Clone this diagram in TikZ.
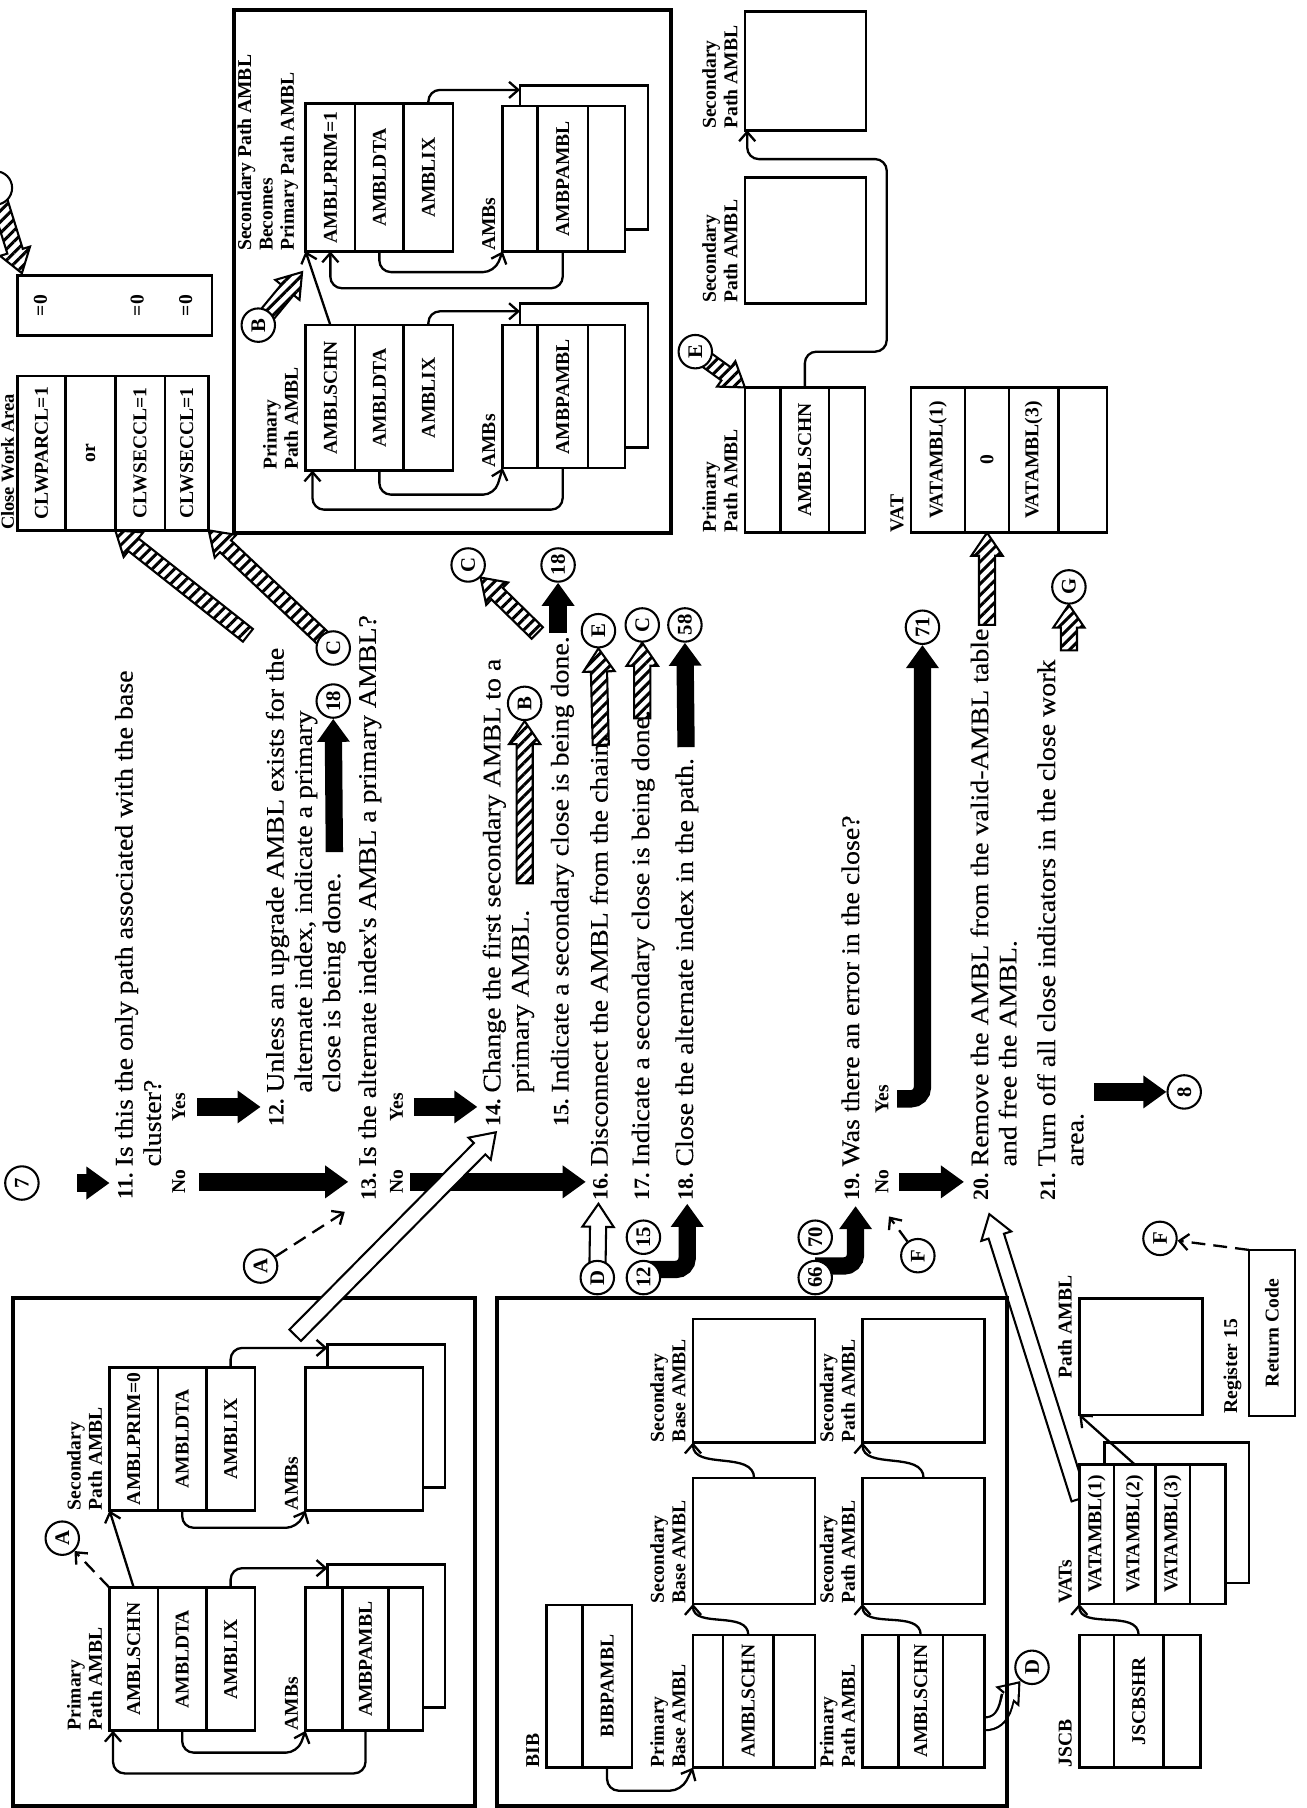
\documentclass[tikz,border=0pt]{standalone}
\usepackage{fontspec}
\setmainfont{Liberation Serif}
\newfontfamily\stepfam[FakeStretch=1.1,FakeBold=0.3]{Liberation Serif}
\usetikzlibrary{arrows.meta,positioning,calc,backgrounds,patterns.meta}

\newcommand{\stepfont}{\stepfam\fontsize{11}{12.25}\selectfont}
\newcommand{\numfont}{\bfseries\fontsize{9.5}{12.25}\selectfont}
\newcommand{\boxfont}{\bfseries\fontsize{8.5}{9.3}\selectfont}
% wide block arrow: style, tail, tip
\newcommand{\fatarrow}[3]{%
  \coordinate (fah) at ($#3!10pt!#2$);
  \path[#1] ($#2!3.5pt!90:#3$) -- ($(fah)!3.5pt!90:#3$) -- ($(fah)!6.8pt!90:#3$) -- #3
    -- ($(fah)!6.8pt!-90:#3$) -- ($(fah)!3.5pt!-90:#3$) -- ($#2!3.5pt!-90:#3$) -- cycle;}

\tikzset{
  outerbox/.style={draw, line width=1.8pt},
  cell/.style={draw, line width=1.1pt, fill=white, inner sep=0pt, outer sep=0pt, font=\boxfont},
  lbl/.style={anchor=south west, inner sep=0pt, align=left, font=\boxfont},
  conn/.style={circle, draw, line width=0.9pt, fill=white, minimum size=14.5pt, inner sep=0pt,
    font=\bfseries\fontsize{9}{9}\selectfont},
  link/.style={line width=1pt, rounded corners=5pt, -{Straight Barb[length=4pt,width=7pt]}},
  dashlink/.style={link, dash pattern=on 6pt off 3.5pt},
  flow/.style={line width=7.5pt, rounded corners=5pt, -{Triangle[length=10pt,width=13.6pt]}},
  hollow/.style={draw, line width=0.9pt, fill=white, line join=miter},
  hatched/.style={hollow, postaction={pattern={Lines[angle=45,distance=3.4pt,line width=1.3pt]}}},
  stepnum/.style={anchor=base east, inner sep=0pt, font=\numfont},
  steptext/.style={anchor=base west, inner sep=0pt, align=left, font=\stepfont},
  yesno/.style={inner sep=0pt, font=\bfseries\fontsize{8.5}{9}\selectfont}
}

\begin{document}
\begin{tikzpicture}[rotate=90, transform shape, x=0.5pt, y=-0.5pt]
\useasboundingbox (0,0) rectangle (1568,1133);

% framed groups
\draw[outerbox] (2,11) rectangle (442,412);
\draw[outerbox] (2,431) rectangle (442,873);
\draw[outerbox] (1106,203) rectangle (1559,582);

% primary and secondary path AMBL
\node[lbl] (lpa) at (67,89) {Primary\\Path AMBL};
\node[cell, minimum width=62pt, minimum height=21pt, anchor=north west] (pa1) at (67,95) {AMBLSCHN};
\node[cell, minimum width=62pt, minimum height=21pt, below=0pt of pa1] (pa2) {AMBLDTA};
\node[cell, minimum width=62pt, minimum height=21pt, below=0pt of pa2] (pa3) {AMBLIX};
\node[lbl] (lsa) at (258,89) {Secondary\\Path AMBL};
\node[cell, minimum width=62pt, minimum height=21pt, anchor=north west] (sa1) at (258,95) {AMBLPRIM=0};
\node[cell, minimum width=62pt, minimum height=21pt, below=0pt of sa1] (sa2) {AMBLDTA};
\node[cell, minimum width=62pt, minimum height=21pt, below=0pt of sa2] (sa3) {AMBLIX};
\node[cell, minimum width=62pt, minimum height=51pt, anchor=north west] (bk1) at (87,284) {};
\node[lbl] (lam1) at (67,259) {AMBs};
\node[cell, minimum width=62pt, minimum height=16pt, anchor=north west] (am1) at (67,265) {};
\node[cell, minimum width=62pt, minimum height=20pt, below=0pt of am1] (am2) {AMBPAMBL};
\node[cell, minimum width=62pt, minimum height=15pt, below=0pt of am2] (am3) {};
\node[cell, minimum width=62pt, minimum height=51pt, anchor=north west] (bk2) at (278,284) {};
\node[lbl] (lam2) at (258,259) {AMBs};
\node[cell, minimum width=62pt, minimum height=51pt, anchor=north west] (sm) at (258,265) {};

% BIB and its chains
\node[lbl] (lbib) at (35,468) {BIB};
\node[cell, minimum width=70.5pt, minimum height=15.5pt, anchor=north west] (bib1) at (35,474) {};
\node[cell, minimum width=70.5pt, minimum height=21.5pt, below=0pt of bib1] (bib2) {BIBPAMBL};
\node[lbl] (lpb) at (35,595) {Primary\\Base AMBL};
\node[cell, minimum width=57.5pt, minimum height=13pt, anchor=north west] (pb1) at (35,601) {};
\node[cell, minimum width=57.5pt, minimum height=22pt, below=0pt of pb1] (pb2) {AMBLSCHN};
\node[cell, minimum width=57.5pt, minimum height=18pt, below=0pt of pb2] (pb3) {};
\node[lbl] (lsb1) at (177,595) {Secondary\\Base AMBL};
\node[cell, minimum width=54.5pt, minimum height=53pt, anchor=north west] (sb1) at (177,601) {};
\node[lbl] (lsb2) at (317,595) {Secondary\\Base AMBL};
\node[cell, minimum width=53.5pt, minimum height=53pt, anchor=north west] (sb2) at (317,601) {};
\node[lbl] (lpp) at (35,742) {Primary\\Path AMBL};
\node[cell, minimum width=57.5pt, minimum height=15.5pt, anchor=north west] (pp1) at (35,748) {};
\node[cell, minimum width=57.5pt, minimum height=19.5pt, below=0pt of pp1] (pp2) {AMBLSCHN};
\node[cell, minimum width=57.5pt, minimum height=18pt, below=0pt of pp2] (pp3) {};
\node[lbl] (lsp1) at (177,742) {Secondary\\Path AMBL};
\node[cell, minimum width=54.5pt, minimum height=53pt, anchor=north west] (sp1) at (177,748) {};
\node[lbl] (lsp2) at (317,742) {Secondary\\Path AMBL};
\node[cell, minimum width=53.5pt, minimum height=53pt, anchor=north west] (sp2) at (317,748) {};

% JSCB, VATs, register 15
\node[lbl] (ljs) at (35,930) {JSCB};
\node[cell, minimum width=57.5pt, minimum height=15pt, anchor=north west] (js1) at (35,936) {};
\node[cell, minimum width=57.5pt, minimum height=21.5pt, below=0pt of js1] (js2) {JSCBSHR};
\node[cell, minimum width=57.5pt, minimum height=16pt, below=0pt of js2] (js3) {};
\node[cell, minimum width=61pt, minimum height=62.5pt, anchor=north west] (vbk) at (195,958) {};
\node[lbl] (lvs) at (177,930) {VATs};
\node[cell, minimum width=60.5pt, minimum height=15pt, anchor=north west] (vs1) at (177,936) {VATAMBL(1)};
\node[cell, minimum width=60.5pt, minimum height=18pt, below=0pt of vs1] (vs2) {VATAMBL(2)};
\node[cell, minimum width=60.5pt, minimum height=15pt, below=0pt of vs2] (vs3) {VATAMBL(3)};
\node[cell, minimum width=60.5pt, minimum height=15.5pt, below=0pt of vs3] (vs4) {};
\node[lbl] (lpab) at (372,930) {Path AMBL};
\node[cell, minimum width=50.5pt, minimum height=53.5pt, anchor=north west] (pab) at (341,936) {};
\node[lbl] (lr15) at (342,1077) {Register 15};
\node[cell, minimum width=72pt, minimum height=20pt, anchor=north west] (rc) at (340,1083) {Return Code};

% close work area
\node[anchor=base west, inner sep=0pt, font=\bfseries\fontsize{8}{9}\selectfont] (lclw) at (1108,12) {Close Work Area};
\node[cell, minimum width=67pt, minimum height=21pt, anchor=north west] (clw1) at (1108,15) {CLWPARCL=1};
\node[cell, minimum width=67pt, minimum height=21.5pt, below=0pt of clw1] (clw2) {or};
\node[cell, minimum width=67pt, minimum height=21.5pt, below=0pt of clw2] (clw3) {CLWSECCL=1};
\node[cell, minimum width=67pt, minimum height=19pt, below=0pt of clw3] (clw4) {CLWSECCL=1};
\node[cell, minimum width=26pt, minimum height=84.5pt, anchor=north west] (zb) at (1277,15) {};
\node[font=\boxfont] (z1) at (1303,35) {=0};
\node[font=\boxfont] (z3) at (1303,119) {=0};
\node[font=\boxfont] (z4) at (1303,161) {=0};

% secondary path AMBL becomes primary
\node[lbl] (ltp) at (1160,259) {Primary\\Path AMBL};
\node[cell, minimum width=63pt, minimum height=21.5pt, anchor=north west] (tp1) at (1160,265) {AMBLSCHN};
\node[cell, minimum width=63pt, minimum height=21pt, below=0pt of tp1] (tp2) {AMBLDTA};
\node[cell, minimum width=63pt, minimum height=21.5pt, below=0pt of tp2] (tp3) {AMBLIX};
\node[cell, minimum width=62.5pt, minimum height=55.5pt, anchor=north west] (tbk1) at (1180,451) {};
\node[lbl] (ltam) at (1162,430) {AMBs};
\node[cell, minimum width=62pt, minimum height=15pt, anchor=north west] (tam1) at (1162,436) {};
\node[cell, minimum width=62pt, minimum height=22pt, below=0pt of tam1] (tam2) {AMBPAMBL};
\node[cell, minimum width=62pt, minimum height=16pt, below=0pt of tam2] (tam3) {};
\node[lbl] (lts) at (1350,259) {Secondary Path AMBL\\Becomes\\Primary Path AMBL};
\node[cell, minimum width=64pt, minimum height=21.5pt, anchor=north west] (ts1) at (1350,265) {AMBLPRIM=1};
\node[cell, minimum width=64pt, minimum height=21pt, below=0pt of ts1] (ts2) {AMBLDTA};
\node[cell, minimum width=64pt, minimum height=21.5pt, below=0pt of ts2] (ts3) {AMBLIX};
\node[cell, minimum width=62.5pt, minimum height=55.5pt, anchor=north west] (tsbk) at (1369,451) {};
\node[lbl] (ltsm) at (1350,430) {AMBs};
\node[cell, minimum width=63pt, minimum height=15pt, anchor=north west] (tsm1) at (1350,436) {};
\node[cell, minimum width=63pt, minimum height=22pt, below=0pt of tsm1] (tsm2) {AMBPAMBL};
\node[cell, minimum width=63pt, minimum height=16pt, below=0pt of tsm2] (tsm3) {};

% disconnected AMBL and VAT
\node[lbl] (lrp) at (1106,640) {Primary\\Path AMBL};
\node[cell, minimum width=63pt, minimum height=15.5pt, anchor=north west] (rp1) at (1106,646) {};
\node[cell, minimum width=63pt, minimum height=21pt, below=0pt of rp1] (rp2) {AMBLSCHN};
\node[cell, minimum width=63pt, minimum height=15.5pt, below=0pt of rp2] (rp3) {};
\node[lbl] (lrs1) at (1305,640) {Secondary\\Path AMBL};
\node[cell, minimum width=54.5pt, minimum height=52.5pt, anchor=north west] (rs1) at (1305,646) {};
\node[lbl] (lrs2) at (1456,640) {Secondary\\Path AMBL};
\node[cell, minimum width=51.5pt, minimum height=52.5pt, anchor=north west] (rs2) at (1455,646) {};
\node[lbl] (lvat) at (1106,784) {VAT};
\node[cell, minimum width=63pt, minimum height=23.5pt, anchor=north west] (vat1) at (1106,790) {VATAMBL(1)};
\node[cell, minimum width=63pt, minimum height=19pt, below=0pt of vat1] (vat2) {0};
\node[cell, minimum width=63pt, minimum height=21.5pt, below=0pt of vat2] (vat3) {VATAMBL(3)};
\node[cell, minimum width=63pt, minimum height=21pt, below=0pt of vat3] (vat4) {};

% steps (multi-line text sits on the baseline of its last line)
\node[stepnum] (n11) at (551,115) {11.};
\node[steptext] (s11) at (556,139.5) {Is this the only path associated with the base\\cluster?};
\node[stepnum] (n12) at (615,246) {12.};
\node[steptext] (s12) at (620,295) {Unless an upgrade AMBL exists for the\\alternate index, indicate a primary\\close is being done.};
\node[stepnum] (n13) at (551,326) {13.};
\node[steptext] (s13) at (556,326) {Is the alternate index's AMBL a primary AMBL?};
\node[stepnum] (n14) at (615,434) {14.};
\node[steptext] (s14) at (620,458.5) {Change the first secondary AMBL to a\\primary AMBL.};
\node[stepnum] (n15) at (615,493) {15.};
\node[steptext] (s15) at (620,493) {Indicate a secondary close is being done.};
\node[stepnum] (n16) at (551,527) {16.};
\node[steptext] (s16) at (556,527) {Disconnect the AMBL from the chain.};
\node[stepnum] (n17) at (551,563) {17.};
\node[steptext] (s17) at (556,563) {Indicate a secondary close is being done.};
\node[stepnum] (n18) at (551,601) {18.};
\node[steptext] (s18) at (556,601) {Close the alternate index in the path.};
\node[stepnum] (n19) at (551,745) {19.};
\node[steptext] (s19) at (556,745) {Was there an error in the close?};
\node[stepnum] (n20) at (551,857) {20.};
\node[steptext] (s20) at (556,881.5) {Remove the AMBL from the valid-AMBL table\\and free the AMBL.};
\node[stepnum] (n21) at (551,915) {21.};
\node[steptext] (s21) at (556,939.5) {Turn off all close indicators in the close work\\area.};
\node[yesno] (no11) at (543,155) {No};
\node[yesno] (y11) at (608,155) {Yes};
\node[yesno] (no13) at (543,344) {No};
\node[yesno] (y13) at (608,344) {Yes};
\node[yesno] (no19) at (543,765) {No};
\node[yesno] (y19) at (615,765) {Yes};

% off-page connectors
\node[conn] (c7) at (542,19) {7};
\node[conn] (cA1) at (234,54) {A};
\node[conn] (cA2) at (470,226) {A};
\node[conn] (cB1) at (958,455) {B};
\node[conn] (cB2) at (1286,224) {B};
\node[conn] (cC1) at (1006,289) {C};
\node[conn] (cC2) at (1078,406) {C};
\node[conn] (cC3) at (1026,557) {C};
\node[conn] (c18a) at (960,289) {18};
\node[conn] (c18b) at (1078,484) {18};
\node[conn] (cE1) at (1021,519) {E};
\node[conn] (cE2) at (1263,603) {E};
\node[conn] (c58) at (1026,594) {58};
\node[conn] (cD1) at (460,518) {D};
\node[conn] (cD2) at (122,895) {D};
\node[conn] (c12) at (460,558) {12};
\node[conn] (c15) at (495,558) {15};
\node[conn] (c66) at (460,707) {66};
\node[conn] (c70) at (495,707) {70};
\node[conn] (cF1) at (479,796) {F};
\node[conn] (cF2) at (494,1006) {F};
\node[conn] (c71) at (1024,800) {71};
\node[conn] (c8) at (621,1027) {8};
\node[conn] (cG) at (1059,927) {G};
\node[conn] (cTop) at (1405,-4) {};

% arrow ends
\coordinate (t7) at (542,67);    \coordinate (h7) at (542,95);
\coordinate (ty11) at (608,171); \coordinate (hy11) at (608,226);
\coordinate (tn11) at (543,173); \coordinate (hn11) at (543,302);
\coordinate (t12) at (829,290);
\coordinate (ty13) at (608,359); \coordinate (hy13) at (608,414);
\coordinate (tn13) at (543,356); \coordinate (hn13) at (543,508);
\coordinate (t15) at (1019,484);
\coordinate (t18) at (920,595);
\coordinate (ty19) at (615,778);
\coordinate (tn19) at (543,780); \coordinate (hn19) at (543,836);
\coordinate (t21) at (621,949);
\coordinate (h18) at (524,596);
\coordinate (h19) at (522,742);
\coordinate (h1s) at (1017,215);
\coordinate (t14) at (802,455);
\coordinate (t15c) at (1019,466);
\coordinate (t16) at (922,521);
\coordinate (t17) at (945,557);
\coordinate (t20) at (1026,856);
\coordinate (t21g) at (1004,927);
\coordinate (hb2) at (1332,262);
\coordinate (hz) at (1331,19);
\coordinate (w1s) at (410,256);  \coordinate (w1e) at (586,430);
\coordinate (hd16) at (524,519);
\coordinate (w3s) at (268,936);  \coordinate (w3e) at (515,858);
\coordinate (d2s) at (73,854);
\coordinate (a13) at (517,299);
\coordinate (f19) at (513,771);

% pointers between control blocks
\draw[link] (pa1.east) -- (sa1.north west);
\draw[dashlink] (pa1.north east) -- (cA1);
\draw[link] (pa2.west) -- ++(-19,0) -- ++(0,100) -- (am1.north west);
\draw[link] (pa3.east) -| ($(bk1.north east)+(-3,0)$);
\draw[link] (am2.west) -| ($(pa1.north west)+(-37,3)$) -- ($(pa1.north west)+(0,3)$);
\draw[link] (sa2.west) -- ++(-15,0) -- ++(0,100) -- (sm.north west);
\draw[link] (sa3.east) -| ($(bk2.north east)+(-3,0)$);
\draw[link] (bib2.west) -| ($(pb1.north west)+(-20,-10)$) -- (pb1.north west);
\draw[link] (pb2.east) to[out=0,in=180] (sb1.north west);
\draw[link] (sb1.east) to[out=0,in=180] (sb2.north west);
\draw[link] (pp2.east) to[out=0,in=180] (sp1.north west);
\draw[link] (sp1.east) to[out=0,in=180] (sp2.north west);
\draw[link] (js2.east) to[out=0,in=180] (vs1.north west);
\draw[link] (vs2.east) -- (pab.north west);
\draw[dashlink] (rc.north east) -- (cF2);
\draw[link] (tp1.east) -- (ts1.north west);
\draw[link] (tp2.west) -- ++(-21,0) -- ++(0,100) -- (tam1.north west);
\draw[link] (tp3.east) -| ($(tbk1.north east)+(-7,0)$);
\draw[link] (tam2.west) -| ($(tp1.north west)+(-34,6)$) -- ($(tp1.north west)+(0,6)$);
\draw[link] (ts2.west) -- ++(-18,0) -- ++(0,100) -- (tsm1.north west);
\draw[link] (ts3.east) -| ($(tsbk.north east)+(-4,0)$);
\draw[link] (tsm2.west) -| ($(ts1.west)+(-32,0)$) -- (ts1.west);
\draw[link] (rp2.east) -- ++(31,0) -- ++(0,71) -- ++(167,0) |- ($(rs2.north west)+(0,2)$);
\draw[dashlink] (cA2) -- (a13);
\draw[dashlink] (cF1) -- (f19);

\fatarrow{hollow}{(w1s)}{(w1e)}

\begin{scope}[on background layer]
  \draw[flow] (t7) -- (h7);
  \draw[flow] (ty11) -- (hy11);
  \draw[flow] (tn11) -- (hn11);
  \draw[flow] (t12) -- (c18a.west);
  \draw[flow] (ty13) -- (hy13);
  \draw[flow] (tn13) -- (hn13);
  \draw[flow] (t15) -- (c18b.west);
  \draw[flow] (t18) -- (c58.west);
  \draw[flow] (ty19) |- (c71.west);
  \draw[flow] (tn19) -- (hn19);
  \draw[flow] (t21) -- (c8.north);
  \draw[flow] ($(c12)+(7,0)$) |- (h18);
  \draw[flow] ($(c66)+(10,0)$) |- (h19);
  \fatarrow{hatched}{(h1s)}{(clw3.north west)}
  \fatarrow{hatched}{(cC1)}{(clw4.south west)}
  \fatarrow{hatched}{(t14)}{(cB1.west)}
  \fatarrow{hatched}{(t15c)}{(cC2.-135)}
  \fatarrow{hatched}{(t16)}{(cE1.west)}
  \fatarrow{hatched}{(t17)}{(cC3.west)}
  \fatarrow{hatched}{(t20)}{(vat2.west)}
  \fatarrow{hatched}{(t21g)}{(cG.west)}
  \fatarrow{hatched}{(cE2)}{(rp1.north east)}
  \fatarrow{hatched}{(cB2)}{(hb2)}
  \fatarrow{hatched}{(cTop)}{(hz)}
  \fatarrow{hollow}{(cD1)}{(hd16)}
  \fatarrow{hollow}{(w3s)}{(w3e)}
  \draw[line width=6.5pt, -{Triangle[length=9pt,width=13pt]}] (d2s) to[out=-90,in=140] (cD2.140);
  \draw[white, line width=4.6pt, shorten >=1.6pt, -{Triangle[length=6.4pt,width=9.4pt]}] (d2s) to[out=-90,in=140] (cD2.140);
\end{scope}
\end{tikzpicture}
\end{document}
